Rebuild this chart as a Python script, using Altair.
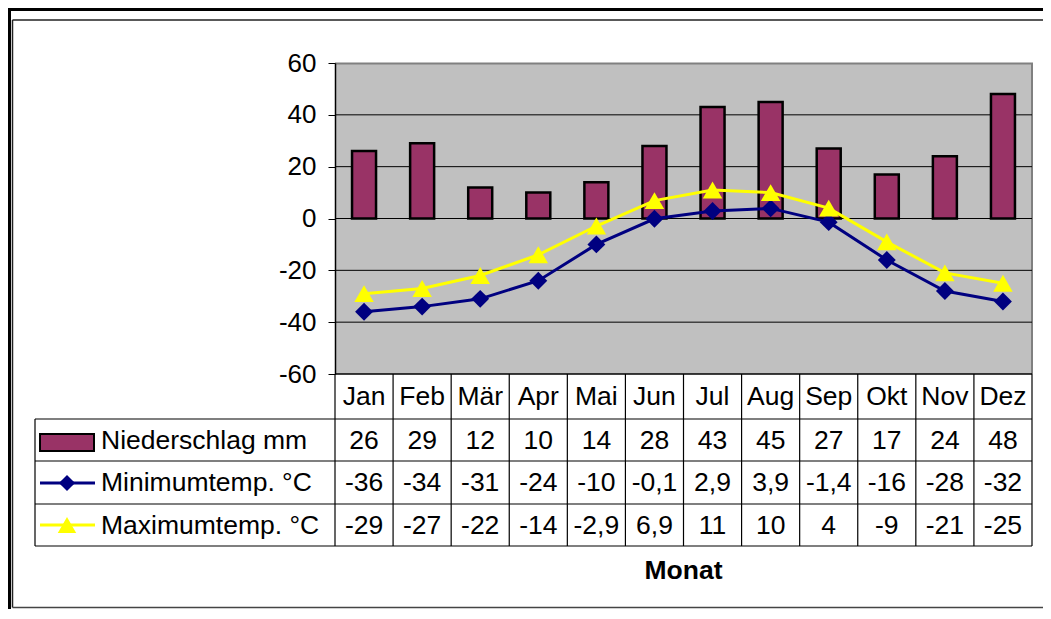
import altair as alt
import pandas as pd

# ---------------- data ----------------
months = ["Jan", "Feb", "Mär", "Apr", "Mai", "Jun", "Jul", "Aug", "Sep", "Okt", "Nov", "Dez"]
niederschlag = [26, 29, 12, 10, 14, 28, 43, 45, 27, 17, 24, 48]
tmin = [-36, -34, -31, -24, -10, -0.1, 2.9, 3.9, -1.4, -16, -28, -32]
tmax = [-29, -27, -22, -14, -2.9, 6.9, 11, 10, 4, -9, -21, -25]
series_names = ["Niederschlag mm", "Minimumtemp. °C", "Maximumtemp. °C"]
y_ticks = [-60, -40, -20, 0, 20, 40, 60]
grid_vals = [-40, -20, 0, 20, 40]
x_title = "Monat"


def de(v):
    return f"{v:g}".replace(".", ",")


df = pd.DataFrame({
    "Monat": months,
    "idx": list(range(len(months))),
    "N": niederschlag,
    "Min": tmin,
    "Max": tmax,
    "N_lbl": [de(v) for v in niederschlag],
    "Min_lbl": [de(v) for v in tmin],
    "Max_lbl": [de(v) for v in tmax],
})
grid_df = pd.DataFrame({"g": grid_vals})
one = pd.DataFrame({"k": [0]})

# ---------------- layout / style ----------------
FONT = "Liberation Sans"
FS = 26.5
FS_AX = 26
PX0, PX1 = 300, 997          # plot area x (view coords)
PY1 = 311                    # plot area bottom
ROWS = [311, 356, 398, 441, 483]
BAR = "#993366"
NAVY = "#000080"
YEL = "#FFFF00"
SVG_W, SVG_H = 1035, 601
PAD_L, PAD_T = 27, 55
W, H = 997, 483

xs = alt.Scale(domain=months, range=[PX0, PX1], paddingInner=0, paddingOuter=0)
ys = alt.Scale(domain=[-60, 60], range=[PY1, 0], nice=False, zero=False)
yaxis = alt.Axis(values=y_ticks, offset=-PX0, grid=False, tickSize=7, tickColor="black",
                 tickWidth=1, domainColor="black", domainWidth=1.5, labelFont=FONT,
                 labelFontSize=FS_AX, labelColor="black", labelPadding=12, title=None,
                 zindex=1, labelOverlap=False, labelExpr="toString(datum.value)")


def X(bp=None):
    if bp is None:
        return alt.X("Monat:N", scale=xs, sort=months, axis=None)
    return alt.X("Monat:N", scale=xs, sort=months, axis=None, bandPosition=bp)


def hrule(y, x0, x1, color="black", w=1.2, data=one):
    return alt.Chart(data).mark_rule(color=color, strokeWidth=w).encode(
        x=alt.value(x0), x2=alt.value(x1), y=alt.value(y))


def vrule(x, y0, y1, color="black", w=1.2):
    return alt.Chart(one).mark_rule(color=color, strokeWidth=w).encode(
        x=alt.value(x), y=alt.value(y0), y2=alt.value(y1))


def txt(y, field, **kw):
    return alt.Chart(df).mark_text(font=FONT, fontSize=FS, baseline="middle",
                                   color="black", **kw).encode(
        x=X(0.5), y=alt.value(y), text=f"{field}:N")


right = SVG_W - PAD_L
bottom_frame = SVG_H - PAD_T - 1.5
layers = []

# frame (double border)
layers.append(hrule(-53.5, -PAD_L, right, w=3))
layers.append(vrule(-25.5, -PAD_T, SVG_H - PAD_T, w=3))
layers.append(hrule(-43, -22.5, right, color="#222222", w=1.5))
layers.append(vrule(-22.5, -43, bottom_frame, color="#222222", w=1.5))
layers.append(hrule(bottom_frame, -22.5, right, color="#444444", w=1.5))

# plot area
layers.append(alt.Chart(one).mark_rect(fill="#C0C0C0").encode(
    x=alt.value(PX0), x2=alt.value(PX1), y=alt.value(0), y2=alt.value(PY1)))
layers.append(hrule(0.5, PX0, PX1 + 1, color="#808080", w=2))
layers.append(vrule(PX1, 0, PY1, color="#808080", w=2))

# gridlines
layers.append(alt.Chart(grid_df).mark_rule(color="black", strokeWidth=1).encode(
    y=alt.Y("g:Q", scale=ys, axis=yaxis), x=alt.value(PX0), x2=alt.value(PX1)))

# bars
layers.append(alt.Chart(df).mark_bar(width=24, color=BAR, stroke="black", strokeWidth=2.5).encode(
    x=X(), y=alt.Y("N:Q", scale=ys, axis=yaxis), y2=alt.datum(0)))

# lines + markers
layers.append(alt.Chart(df).mark_line(color=NAVY, strokeWidth=3).encode(
    x=X(0.5), y=alt.Y("Min:Q", scale=ys, axis=yaxis), order="idx:Q"))
layers.append(alt.Chart(df).mark_point(shape="diamond", filled=True, size=320, color=NAVY,
                                       opacity=1).encode(
    x=X(0.5), y=alt.Y("Min:Q", scale=ys, axis=yaxis)))
layers.append(alt.Chart(df).mark_line(color=YEL, strokeWidth=3).encode(
    x=X(0.5), y=alt.Y("Max:Q", scale=ys, axis=yaxis), order="idx:Q"))
layers.append(alt.Chart(df).mark_point(shape="triangle-up", filled=True, size=380, color=YEL,
                                       opacity=1).encode(
    x=X(0.5), y=alt.Y("Max:Q", scale=ys, axis=yaxis)))

# data table lines
layers.append(hrule(PY1, PX0, PX1, w=1.5))
for yy in ROWS[1:]:
    layers.append(hrule(yy, 0, PX1))
layers.append(vrule(0, ROWS[1], ROWS[-1]))
layers.append(vrule(PX0, ROWS[0], ROWS[-1]))
layers.append(alt.Chart(df).mark_rule(color="black", strokeWidth=1.2).encode(
    x=X(1), y=alt.value(ROWS[0]), y2=alt.value(ROWS[-1])))

# table texts
layers.append(txt(333.5, "Monat"))
layers.append(txt(377.5, "N_lbl"))
layers.append(txt(420, "Min_lbl"))
layers.append(txt(462.5, "Max_lbl"))

# table legend column
for name, yy in zip(series_names, [377.5, 420, 462.5]):
    layers.append(alt.Chart(pd.DataFrame({"s": [name]})).mark_text(
        font=FONT, fontSize=FS, baseline="middle", align="left", color="black").encode(
        x=alt.value(66), y=alt.value(yy), text="s:N"))
layers.append(alt.Chart(one).mark_rect(fill=BAR, stroke="black", strokeWidth=2).encode(
    x=alt.value(5), x2=alt.value(59), y=alt.value(371), y2=alt.value(388)))
layers.append(hrule(420, 5, 60, color=NAVY, w=3))
layers.append(alt.Chart(one).mark_point(shape="diamond", filled=True, size=260, color=NAVY,
                                        opacity=1).encode(x=alt.value(32), y=alt.value(420)))
layers.append(hrule(462, 5, 60, color=YEL, w=3))
layers.append(alt.Chart(one).mark_point(shape="triangle-up", filled=True, size=340, color=YEL,
                                        opacity=1).encode(x=alt.value(32), y=alt.value(462)))

# axis title "Monat"
layers.append(alt.Chart(pd.DataFrame({"t": [x_title]})).mark_text(
    font=FONT, fontSize=FS, fontWeight="bold", baseline="middle", align="center",
    color="black").encode(x=alt.value((PX0 + PX1) / 2), y=alt.value(508), text="t:N"))

chart = alt.layer(*layers).properties(
    width=W, height=H,
    autosize=alt.AutoSizeParams(type="none"),
    padding={"left": PAD_L, "top": PAD_T, "right": SVG_W - PAD_L - W, "bottom": SVG_H - PAD_T - H},
    background="white",
).configure_view(stroke=None)

chart.save("out.html", embed_options={"renderer": "svg", "actions": False})
